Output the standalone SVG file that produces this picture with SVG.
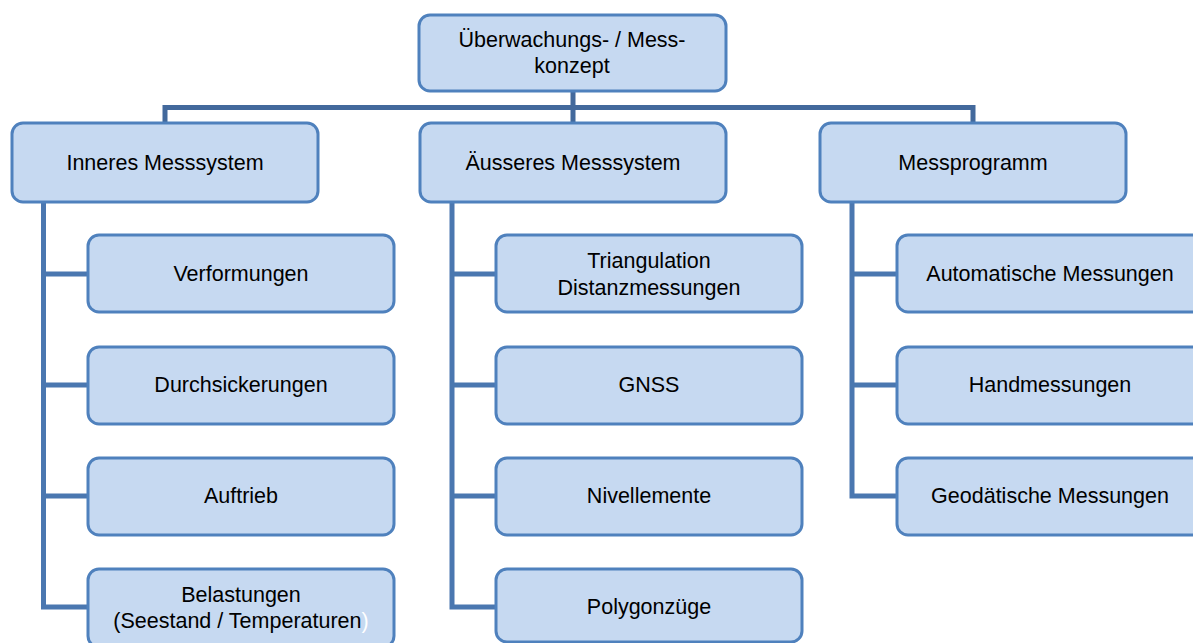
<svg xmlns="http://www.w3.org/2000/svg" width="1193" height="643" viewBox="0 0 1193 643">
<style>
.n{fill:#c6d9f1;stroke:#4f81bd;stroke-width:3}
.c{fill:none;stroke:#43699c;stroke-width:5}
.c2{fill:none;stroke:#4a77b0;stroke-width:5}
text{font-family:"Liberation Sans",Arial,sans-serif;font-size:21.5px;fill:#000;text-anchor:middle}
</style>
<rect width="1193" height="643" fill="#fff"/>
<g id="connectors">
<path class="c" d="M573 91V123M162.5 107.5H975.5M165 105V123M973 105V123"/>
<path class="c2" d="M43.5 202V607H88M43.5 274H88M43.5 385H88M43.5 496H88"/>
<path class="c2" d="M452 202V607H496M452 274H496M452 385H496M452 496H496"/>
<path class="c2" d="M852 202V496H897M852 274H897M852 385H897"/>
</g>
<g id="top"><rect class="n" x="419" y="15" width="307" height="76" rx="11"/><text x="572" y="47">Überwachungs- / Mess-</text><text x="572" y="73">konzept</text></g>
<g id="inneres"><rect class="n" x="12" y="123" width="306" height="79" rx="11"/><text x="165" y="170">Inneres Messsystem</text></g>
<g id="aeusseres"><rect class="n" x="420" y="123" width="306" height="79" rx="11"/><text x="573" y="170">Äusseres Messsystem</text></g>
<g id="messprogramm"><rect class="n" x="820" y="123" width="306" height="79" rx="11"/><text x="973" y="170">Messprogramm</text></g>
<g id="verformungen"><rect class="n" x="88" y="235" width="306" height="77" rx="11"/><text x="241" y="281">Verformungen</text></g>
<g id="durchsickerungen"><rect class="n" x="88" y="347" width="306" height="77" rx="11"/><text x="241" y="392">Durchsickerungen</text></g>
<g id="auftrieb"><rect class="n" x="88" y="458" width="306" height="77" rx="11"/><text x="241" y="503">Auftrieb</text></g>
<g id="belastungen"><rect class="n" x="88" y="569" width="306" height="78" rx="11"/><text x="241" y="602">Belastungen</text><text x="241" y="628">(Seestand / Temperaturen<tspan fill="#ffffff">)</tspan></text></g>
<g id="triangulation"><rect class="n" x="496" y="235" width="306" height="77" rx="11"/><text x="649" y="268">Triangulation</text><text x="649" y="295">Distanzmessungen</text></g>
<g id="gnss"><rect class="n" x="496" y="347" width="306" height="77" rx="11"/><text x="649" y="392">GNSS</text></g>
<g id="nivellemente"><rect class="n" x="496" y="458" width="306" height="77" rx="11"/><text x="649" y="503">Nivellemente</text></g>
<g id="polygonzuege"><rect class="n" x="496" y="569" width="306" height="73" rx="11"/><text x="649" y="614">Polygonzüge</text></g>
<g id="automatische"><rect class="n" x="897" y="235" width="306" height="77" rx="11"/><text x="1050" y="281">Automatische Messungen</text></g>
<g id="handmessungen"><rect class="n" x="897" y="347" width="306" height="77" rx="11"/><text x="1050" y="392">Handmessungen</text></g>
<g id="geodaetische"><rect class="n" x="897" y="458" width="306" height="77" rx="11"/><text x="1050" y="503">Geodätische Messungen</text></g>
</svg>
